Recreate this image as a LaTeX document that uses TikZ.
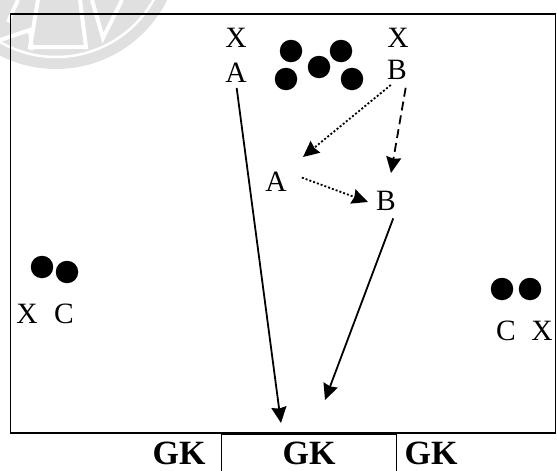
\documentclass[tikz,border=0pt]{standalone}
\usepackage{fontspec}
\setmainfont{Liberation Serif}
\usetikzlibrary{arrows.meta}
\tikzset{
	player/.style={inner sep=0pt, font=\fontsize{29.5}{30}\selectfont},
	keeper/.style={inner sep=0pt, font=\fontsize{34}{34}\selectfont\bfseries},
	cone/.style={circle, fill=black, minimum size=22.5pt, inner sep=0pt},
	run/.style={-{Stealth[length=16pt,width=15pt,inset=1.5pt]}, line width=1.8pt},
	pass/.style={run, dash pattern=on 2pt off 2pt},
	dribble/.style={run, dash pattern=on 9pt off 5pt},
	stripe/.style={white, line width=4pt}
}
\begin{document}
\begin{tikzpicture}[x=1pt, y=-1pt]
	\useasboundingbox (0,0) rectangle (557,471);
	% backdrop
	\begin{scope}
		\clip (0,0) rectangle (557,471);
		\fill[black!12] (56,-55) circle[radius=124pt];
		\draw[white, line width=2.5pt] (56,-55) circle[radius=112pt];
		\draw[stripe] (0,40) -- (30,30) -- (32,50);
		\draw[stripe] (38,0) -- (30,47) -- (86,47) -- (80,0);
		\draw[stripe] (92,0) -- (103,38) -- (122,0);
		\draw[stripe] (18,0) -- (8,22);
	\end{scope}
	\node[draw, line width=1.5pt, minimum width=545pt, minimum height=419pt, anchor=north west, inner sep=0pt] (field) at (9.5,13) {};
	\node[draw, line width=1pt, minimum width=175pt, minimum height=40pt, anchor=north west, inner sep=0pt] (goal) at (221,434) {};
	\node[player] (xa) at (236,38) {X};
	\node[player] (a) at (236,73) {A};
	\node[player] (xb) at (398,38) {X};
	\node[player] (b) at (397,70) {B};
	\node[player] (a2) at (276,182) {A};
	\node[player] (b2) at (386,201) {B};
	\node[player] (xc) at (27,314) {X};
	\node[player] (c) at (64,314) {C};
	\node[player] (c2) at (506,331) {C};
	\node[player] (xc2) at (542,331) {X};
	\node[keeper] (gk1) at (179,453) {GK};
	\node[keeper] (gk2) at (309,453) {GK};
	\node[keeper] (gk3) at (431,453) {GK};
	\node[cone] (cone1) at (291,51) {};
	\node[cone] (cone2) at (341,51) {};
	\node[cone] (cone3) at (319,67) {};
	\node[cone] (cone4) at (286,79) {};
	\node[cone] (cone5) at (352,79) {};
	\node[cone] (cone6) at (42,267) {};
	\node[cone] (cone7) at (67,272) {};
	\node[cone] (cone8) at (502,289) {};
	\node[cone] (cone9) at (530,289) {};
	\coordinate (shot) at (281,423);
	\coordinate (shotb) at (325,400);
	\coordinate (passa) at (303,157);
	\coordinate (passb) at (368,202);
	\coordinate (runb) at (391,173);
	\draw[run, shorten <=5pt] (a.south) -- (shot);
	\draw[run, shorten <=8pt] (b2.south east) -- (shotb);
	\draw[pass, shorten <=8pt] (b.south) -- (passa);
	\draw[pass, shorten <=16pt] (a2.north east) -- (passb);
	\draw[dribble, shorten <=8pt] (b.south east) -- (runb);
\end{tikzpicture}
\end{document}
